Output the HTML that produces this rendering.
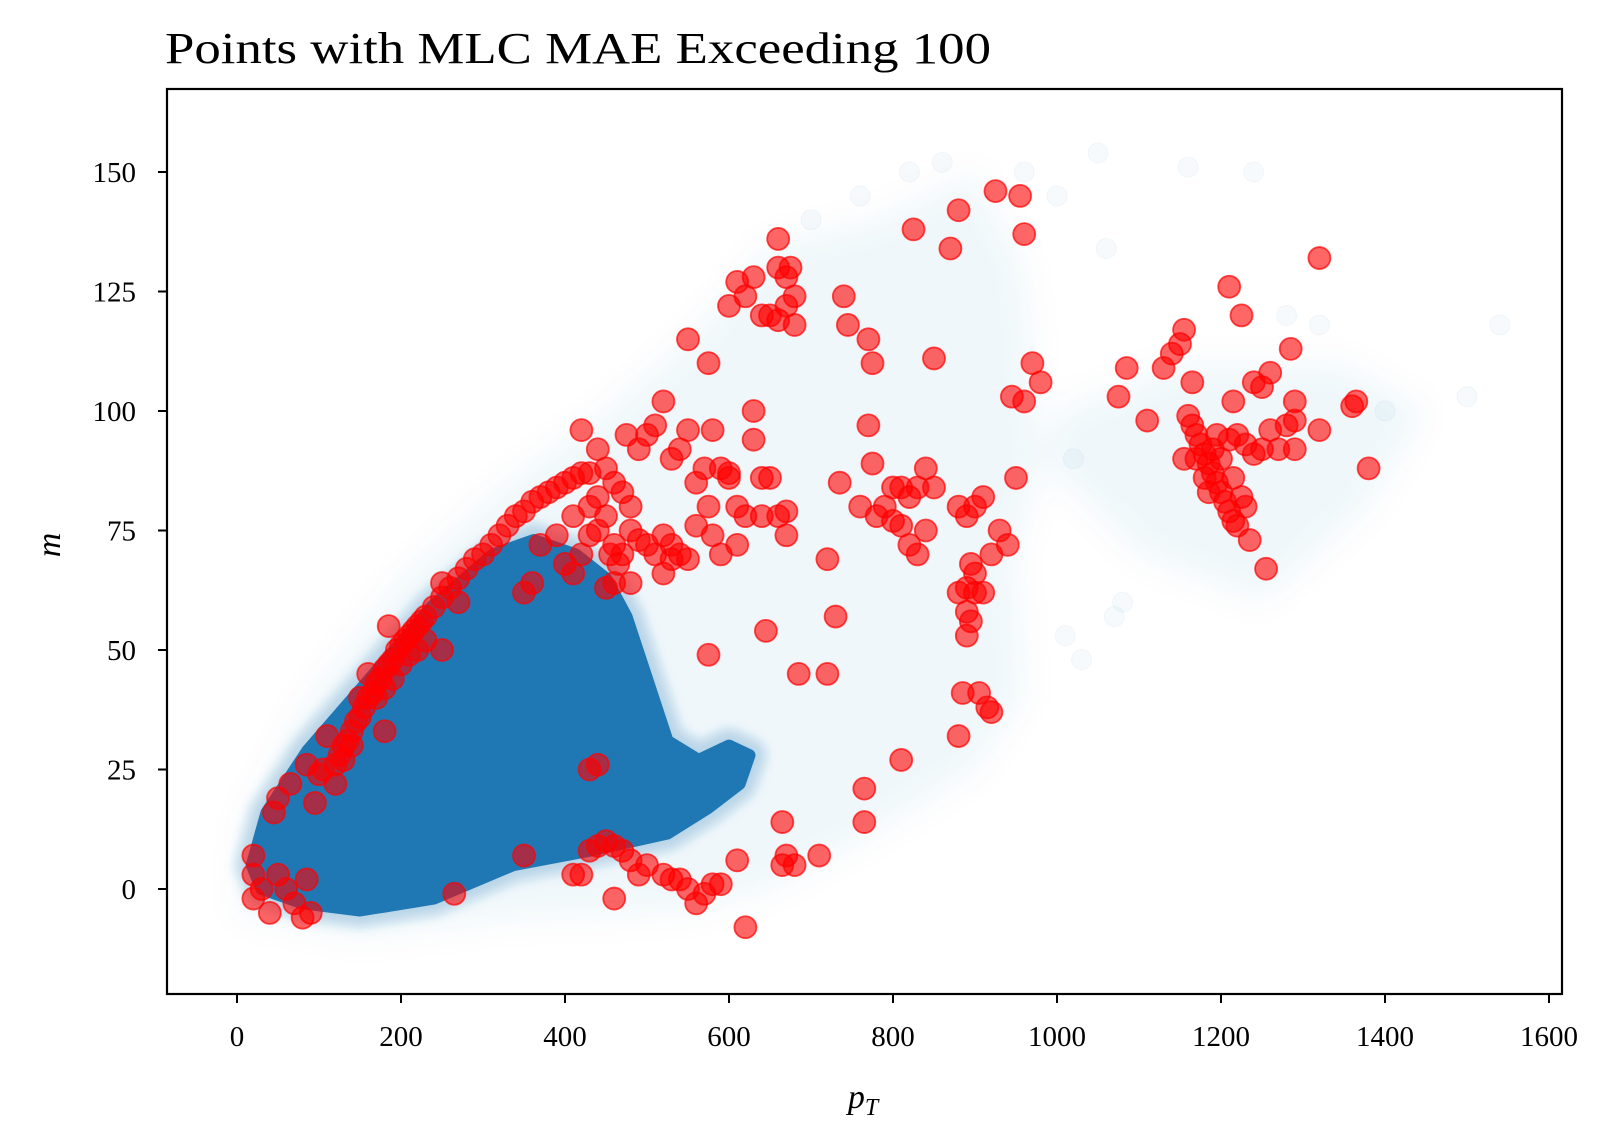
<!DOCTYPE html>
<html><head><meta charset="utf-8"><style>
body{margin:0;background:#fff;}
svg{display:block;font-family:"Liberation Serif",serif;}
</style></head><body>
<svg id="chart" width="1614" height="1137" viewBox="0 0 1614 1137">
<defs><filter id="blur" x="-20%" y="-20%" width="140%" height="140%"><feGaussianBlur stdDeviation="16"/></filter>
<filter id="soft" x="-10%" y="-10%" width="120%" height="120%"><feGaussianBlur stdDeviation="5"/></filter>
<clipPath id="clip"><rect x="167" y="89" width="1395" height="905"/></clipPath></defs>
<rect x="0" y="0" width="1614" height="1137" fill="#fff"/>
<text x="165" y="63" font-size="44" textLength="826" lengthAdjust="spacingAndGlyphs" fill="#000">Points with MLC MAE Exceeding 100</text>
<g id="plot" clip-path="url(#clip)"></g>
<rect x="167" y="89" width="1395" height="905" fill="none" stroke="#000" stroke-width="2.2"/>
<g id="axes"></g>
<text x="863" y="1108" font-size="34" font-style="italic" text-anchor="middle">p<tspan font-size="24" dy="7">T</tspan></text>
<text x="0" y="0" font-size="34" font-style="italic" text-anchor="middle" transform="translate(60,545) rotate(-90)">m</text>
</svg>
<script>
const xTicks=[0,200,400,600,800,1000,1200,1400,1600];
const yTicks=[0,25,50,75,100,125,150];
const blobOutline=[[30,0],[80,-3],[150,-4.5],[240,-2],[337,5],[430,8],[525,11.6],[575,17],[613,22],[625,28],[600,30],[563,27],[525,31],[500,44],[475,57],[450,65],[413,70],[362,73],[312,70],[237,59],[162,44],[86,29],[36,16],[18,5]];
const haloOutline=[[0,-5],[150,-10],[350,-6],[550,-5],[650,0],[760,10],[900,25],[960,40],[950,70],[1000,100],[1150,110],[1350,110],[1450,100],[1380,80],[1250,60],[1100,70],[980,90],[960,130],[900,150],[780,140],[650,135],[550,115],[450,100],[330,85],[200,65],[80,38],[10,15]];
const faintX=[1050,1030,1070,1160,1240,1280,1020,1320,1400,1500,1540,1000,960,860,820,760,700,1060,1080,1010];
const faintM=[154,48,57,151,150,120,90,118,100,103,118,145,150,152,150,145,140,134,60,53];
const redX=[120,125,130,135,140,145,150,155,160,165,170,175,180,185,190,195,200,205,210,215,220,225,230,240,250,260,270,280,290,300,310,320,330,340,350,360,370,380,390,400,410,420,430,160,170,180,190,200,210,220,185,150,140,130,110,105,120,180,230,250,270,250,
420,440,430,440,450,460,470,480,490,500,510,520,530,540,460,470,480,500,510,520,530,540,550,560,570,580,590,600,610,620,630,640,650,630,575,560,580,590,610,550,530,520,480,460,450,400,410,420,430,440,450,410,390,370,360,350,475,490,455,465,
640,660,670,670,645,575,685,720,730,720,735,760,770,775,780,790,800,810,820,830,840,850,800,810,820,830,840,880,890,900,910,920,930,940,950,880,890,895,900,890,895,890,900,910,885,905,915,920,880,810,765,765,665,665,670,680,710,610,620,590,580,570,560,550,540,530,520,500,490,480,470,460,450,440,430,420,410,350,265,430,440,460,80,70,90,60,50,40,20,20,20,30,45,50,65,85,95,85,100,600,600,610,620,630,640,650,660,670,680,660,670,675,660,680,550,575,740,745,770,775,825,870,880,925,955,960,850,945,960,970,980,1075,1085,1110,1130,1140,1150,1155,1165,1210,1225,1215,1240,1250,1260,1285,1290,1320,1360,1365,1380,1320,1290,1280,1270,1290,1240,1250,1260,1235,1255,1155,
1160,1165,1170,1175,1180,1185,1190,1195,1200,1205,1210,1215,1220,1170,1180,1190,1200,1210,1220,1230,1225,1195,1185,1215,1230];
const redM=[26,28,30,31,33,35,36,38,40,41,43,44,46,47,48,50,51,52,53,54,55,56,57,59,61,63,65,67,69,70,72,74,76,78,79,81,82,83,84,85,86,87,87,45,40,42,44,47,49,50,55,40,30,27,32,25,22,33,52,64,60,50,
96,92,80,75,78,72,70,75,73,72,70,74,72,70,85,83,80,95,97,102,90,92,96,85,88,96,88,86,80,78,94,86,86,100,80,76,74,70,72,69,69,66,64,64,63,68,66,70,74,82,88,78,74,72,64,62,95,92,70,68,
78,78,79,74,54,49,45,45,57,69,85,80,97,89,78,80,84,84,82,84,88,84,77,76,72,70,75,80,78,80,82,70,75,72,86,62,63,68,62,58,56,53,66,62,41,41,38,37,32,27,21,14,14,5,7,5,7,6,-8,1,1,-1,-3,0,2,2,3,5,3,6,8,9,10,9,8,3,3,7,-1,25,26,-2,-6,-3,-5,0,3,-5,-2,3,7,0,16,19,22,26,18,2,24,87,122,127,124,128,120,120,119,122,118,130,128,130,136,124,115,110,124,118,115,110,138,134,142,146,145,137,111,103,102,110,106,103,109,98,109,112,114,117,106,126,120,102,106,105,108,113,102,132,101,102,88,96,98,97,92,92,91,92,96,73,67,90,
99,97,95,93,91,89,87,85,83,81,79,77,76,90,86,92,90,94,95,93,82,95,83,86,80];

const X0=237, XS=(1549-237)/1600, Y0=889, YS=(889-172)/150;
const sx=v=>X0+v*XS, sy=v=>Y0-v*YS;
const NS="http://www.w3.org/2000/svg";
const plot=document.getElementById('plot'), axes=document.getElementById('axes');
function mk(tag,attrs,parent){const e=document.createElementNS(NS,tag);for(const k in attrs)e.setAttribute(k,attrs[k]);parent.appendChild(e);return e;}
const pts=a=>a.map(p=>sx(p[0])+','+sy(p[1])).join(' ');
let h=mk('polygon',{points:pts(haloOutline),fill:'#1f77b4','fill-opacity':'0.06',filter:'url(#blur)'},plot);


faintX.forEach((x,i)=>{const c=mk('circle',{cx:sx(x),cy:sy(faintM[i]),r:10,fill:'#1f77b4','fill-opacity':'0.04',stroke:'#1f77b4','stroke-opacity':'0.05'},plot);

});
let g=mk('polygon',{points:pts(blobOutline),fill:'#1f77b4','fill-opacity':'0.25',stroke:'#1f77b4','stroke-opacity':'0.25','stroke-width':'34','stroke-linejoin':'round',filter:'url(#soft)'},plot);


let b=mk('polygon',{points:pts(blobOutline),fill:'#1f77b4',stroke:'#1f77b4','stroke-width':'12','stroke-linejoin':'round'},plot);


redX.forEach((x,i)=>{const c=mk('circle',{cx:sx(x),cy:sy(redM[i]),r:11,fill:'#ff0000','fill-opacity':'0.6',stroke:'#ff0000','stroke-opacity':'0.7','stroke-width':'1.8'},plot);

});
xTicks.forEach(v=>{mk('line',{x1:sx(v),x2:sx(v),y1:994,y2:1003,stroke:'#000','stroke-width':'2'},axes);
const t=mk('text',{x:sx(v),y:1046,'font-size':'29','text-anchor':'middle'},axes);t.textContent=v;

});
yTicks.forEach(v=>{mk('line',{x1:158,x2:167,y1:sy(v),y2:sy(v),stroke:'#000','stroke-width':'2'},axes);
const t=mk('text',{x:136,y:sy(v)+10,'font-size':'29','text-anchor':'end'},axes);t.textContent=v;

});
</script>
</body></html>
